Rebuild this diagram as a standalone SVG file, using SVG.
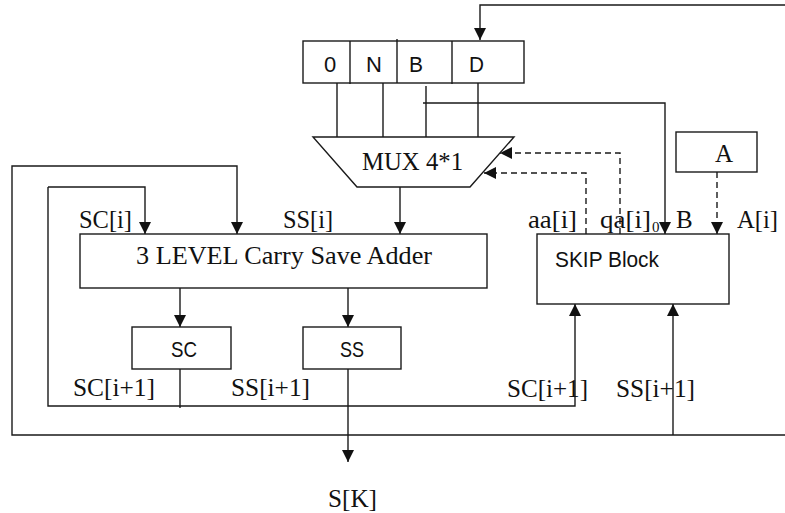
<svg xmlns="http://www.w3.org/2000/svg" width="785" height="513" viewBox="0 0 785 513">
<defs>
<marker id="ah" markerUnits="userSpaceOnUse" markerWidth="13" markerHeight="12" refX="12" refY="6" orient="auto">
<path d="M0,0 L12,6 L0,12 z" fill="#111"/>
</marker>
<style>
.ln{fill:none;stroke:#1a1a1a;stroke-width:1.4}
.ds{fill:none;stroke:#1a1a1a;stroke-width:1.4;stroke-dasharray:6,4}
.bx{fill:#fff;stroke:#1a1a1a;stroke-width:1.4}
.sf{font-family:"Liberation Serif","Times New Roman",serif;font-size:25px;fill:#111}
.ss{font-family:"Liberation Sans",Arial,sans-serif;font-size:22px;fill:#111}
</style>
</defs>
<rect width="785" height="513" fill="#fff"/>
<g id="connectors">
<path class="ln" d="M785,5 H480 V40" marker-end="url(#ah)"/>
<path class="ln" d="M337,83 V137 M383,83 V137 M426,86 V137 M478,83 V137"/>
<path class="ln" d="M423,103 H665 V234" marker-end="url(#ah)"/>
<path class="ln" d="M400,187 V234" marker-end="url(#ah)"/>
<path class="ds" d="M620,234 V153 H500" marker-end="url(#ah)"/>
<path class="ds" d="M586,234 V173 H484" marker-end="url(#ah)"/>
<path class="ds" d="M717,172 V234" marker-end="url(#ah)"/>
<path class="ln" d="M785,435 H12 V166 H237 V234" marker-end="url(#ah)"/>
<path class="ln" d="M180,369 V408"/>
<path class="ln" d="M48,187 H145 V234" marker-end="url(#ah)"/>
<path class="ln" d="M48,187 V406 H575 V304" marker-end="url(#ah)"/>
<path class="ln" d="M673,435 V304" marker-end="url(#ah)"/>
<path class="ln" d="M180,288 V327" marker-end="url(#ah)"/>
<path class="ln" d="M348,288 V327" marker-end="url(#ah)"/>
<path class="ln" d="M348,369 V462" marker-end="url(#ah)"/>
</g>
<g id="register">
<rect class="bx" x="303" y="41" width="221" height="42"/>
<path class="ln" d="M350,41 V84 M397,39 V83 M452,41 V84"/>
<text class="ss" x="324" y="72">0</text>
<text class="ss" x="366" y="72">N</text>
<text class="ss" x="409" y="72" textLength="14" lengthAdjust="spacingAndGlyphs">B</text>
<text class="ss" x="469" y="72" textLength="15" lengthAdjust="spacingAndGlyphs">D</text>
</g>
<g id="mux">
<path class="bx" d="M313,137 H514 L470,187 H357 Z"/>
<text class="sf" x="362" y="170" textLength="101" lengthAdjust="spacingAndGlyphs">MUX 4*1</text>
</g>
<g id="csa">
<rect class="bx" x="80" y="234" width="407" height="54"/>
<text class="sf" x="136" y="264" textLength="296" lengthAdjust="spacingAndGlyphs">3 LEVEL Carry Save Adder</text>
</g>
<g id="sc">
<rect class="bx" x="132" y="327" width="99" height="42"/>
<text class="ss" x="171" y="357" textLength="26" lengthAdjust="spacingAndGlyphs">SC</text>
</g>
<g id="ss">
<rect class="bx" x="303" y="327" width="98" height="42"/>
<text class="ss" x="340" y="357" textLength="24" lengthAdjust="spacingAndGlyphs">SS</text>
</g>
<g id="a">
<rect class="bx" x="676" y="132" width="81" height="40"/>
<text class="sf" x="715" y="162">A</text>
</g>
<g id="skip">
<rect class="bx" x="537" y="234" width="192" height="70"/>
<text class="ss" x="555" y="267" textLength="104" lengthAdjust="spacingAndGlyphs">SKIP Block</text>
</g>
<g id="labels">
<text class="sf" x="79" y="228" textLength="53" lengthAdjust="spacingAndGlyphs">SC[i]</text>
<text class="sf" x="283" y="228" textLength="50" lengthAdjust="spacingAndGlyphs">SS[i]</text>
<text class="sf" x="528" y="228" textLength="49" lengthAdjust="spacingAndGlyphs">aa[i]</text>
<text class="sf" x="600" y="228" textLength="51" lengthAdjust="spacingAndGlyphs">qa[i]</text>
<text class="sf" x="652" y="232" style="font-size:15px">0</text>
<text class="sf" x="676" y="228">B</text>
<text class="sf" x="737" y="228" textLength="41" lengthAdjust="spacingAndGlyphs">A[i]</text>
<text class="sf" x="73" y="396" textLength="82" lengthAdjust="spacingAndGlyphs">SC[i+1]</text>
<text class="sf" x="231" y="396" textLength="79" lengthAdjust="spacingAndGlyphs">SS[i+1]</text>
<text class="sf" x="507" y="397" textLength="81" lengthAdjust="spacingAndGlyphs">SC[i+1]</text>
<text class="sf" x="616" y="397" textLength="79" lengthAdjust="spacingAndGlyphs">SS[i+1]</text>
<text class="sf" x="328" y="507" textLength="49" lengthAdjust="spacingAndGlyphs">S[K]</text>
</g>
</svg>
